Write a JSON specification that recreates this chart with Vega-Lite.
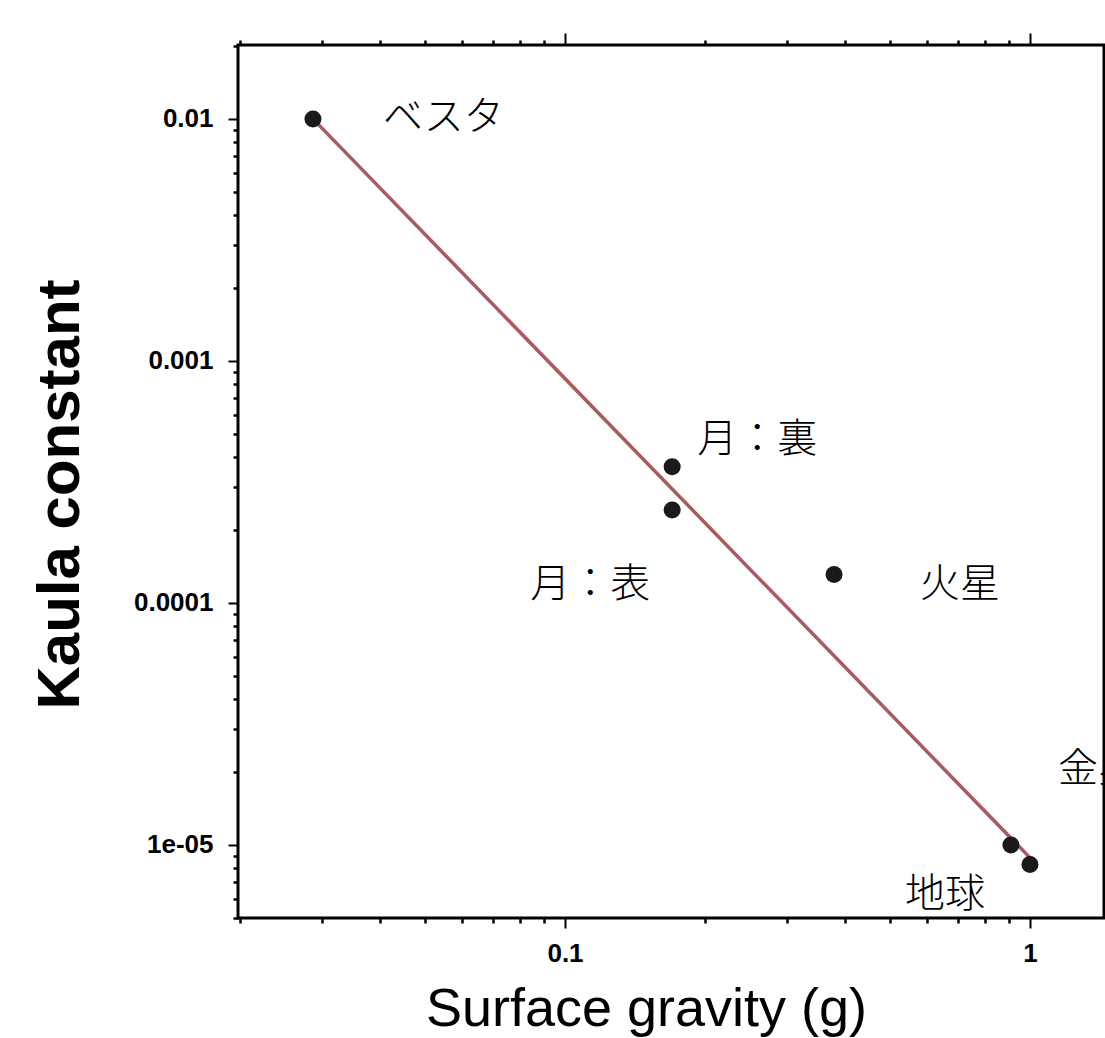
{
  "$schema": "https://vega.github.io/schema/vega-lite/v6.json",
  "width": 866,
  "height": 873,
  "autosize": {"type": "none"},
  "padding": {"left": 238, "top": 45, "right": 1, "bottom": 120},
  "background": "white",
  "config": {
    "view": {"stroke": "black", "strokeWidth": 3},
    "axis": {
      "domain": false,
      "grid": false,
      "tickColor": "black",
      "labelColor": "black",
      "titleColor": "black",
      "labelFont": "Liberation Sans",
      "titleFont": "Liberation Sans"
    }
  },
  "datasets": {
    "bodies": [
      {"body": "ベスタ", "g": 0.0287, "kaula": 0.01},
      {"body": "月：裏", "g": 0.170, "kaula": 0.000365},
      {"body": "月：表", "g": 0.170, "kaula": 0.000242},
      {"body": "火星", "g": 0.379, "kaula": 0.000131},
      {"body": "金星", "g": 0.91, "kaula": 0.00001},
      {"body": "地球", "g": 1.0, "kaula": 0.0000083}
    ],
    "fit": [
      {"g": 0.0287, "kaula": 0.01},
      {"g": 1.015, "kaula": 0.0000086}
    ]
  },
  "resolve": {"axis": {"x": "independent", "y": "independent"}},
  "layer": [
    {
      "data": {"name": "fit"},
      "mark": {"type": "line", "color": "#aa5b60", "strokeWidth": 3.5},
      "encoding": {
        "x": {
          "field": "g", "type": "quantitative",
          "scale": {"type": "log", "domain": [0.0198, 1.443], "nice": false},
          "axis": {
            "orient": "bottom", "values": [0.1, 1], "tickSize": 10, "tickWidth": 2,
            "labelFontSize": 26, "labelFontWeight": "bold", "labelPadding": 12,
            "labelExpr": "toString(datum.value)",
            "title": "Surface gravity (g)", "titleFontSize": 54, "titleFontWeight": "normal",
            "titleX": 408, "titleY": 107, "titleAlign": "center", "titleBaseline": "alphabetic", "titleAnchor": null
          }
        },
        "y": {
          "field": "kaula", "type": "quantitative",
          "scale": {"type": "log", "domain": [0.00000499, 0.0202], "nice": false},
          "axis": {
            "orient": "left", "values": [0.01, 0.001, 0.0001, 0.00001], "tickSize": 10, "tickWidth": 2,
            "labelFontSize": 26, "labelFontWeight": "bold", "labelPadding": 15,
            "labelExpr": "datum.value < 0.00005 ? '1e-05' : toString(datum.value)",
            "title": "Kaula constant", "titleFontSize": 60, "titleFontWeight": "bold",
            "titleX": -160, "titleY": 449, "titleAngle": -90, "titleAlign": "center", "titleBaseline": "alphabetic"
          }
        }
      }
    },
    {
      "data": {"name": "bodies"},
      "mark": {"type": "point", "shape": "circle", "filled": true, "size": 290, "color": "#1a1a1a", "opacity": 1},
      "encoding": {
        "x": {
          "field": "g", "type": "quantitative",
          "axis": {
            "orient": "bottom",
            "values": [0.02, 0.03, 0.04, 0.05, 0.06, 0.07, 0.08, 0.09, 0.2, 0.3, 0.4, 0.5, 0.6, 0.7, 0.8, 0.9],
            "labels": false, "tickSize": 5, "tickWidth": 2.5, "title": null
          }
        },
        "y": {
          "field": "kaula", "type": "quantitative",
          "axis": {
            "orient": "left",
            "values": [0.000005, 0.000006, 0.000007, 0.000008, 0.000009, 0.00002, 0.00003, 0.00004, 0.00005, 0.00006, 0.00007, 0.00008, 0.00009, 0.0002, 0.0003, 0.0004, 0.0005, 0.0006, 0.0007, 0.0008, 0.0009, 0.002, 0.003, 0.004, 0.005, 0.006, 0.007, 0.008, 0.009, 0.02],
            "labels": false, "tickSize": 5, "tickWidth": 2.5, "title": null
          }
        }
      }
    },
    {
      "data": {"name": "bodies"},
      "transform": [{"filter": "datum.body == 'ベスタ'"}],
      "mark": {"type": "text", "align": "left", "baseline": "middle", "dx": 70, "dy": -1, "font": "Noto Sans CJK JP", "fontWeight": 300, "fontSize": 40, "color": "black"},
      "encoding": {
        "x": {
          "field": "g", "type": "quantitative",
          "axis": {"orient": "top", "values": [0.1, 1], "labels": false, "tickSize": 12, "tickWidth": 2, "title": null}
        },
        "y": {"field": "kaula", "type": "quantitative", "axis": null},
        "text": {"field": "body"}
      }
    },
    {
      "data": {"name": "bodies"},
      "transform": [{"filter": "datum.body == '月：裏'"}],
      "mark": {"type": "text", "align": "left", "baseline": "middle", "dx": 25, "dy": -27, "font": "Noto Sans CJK JP", "fontWeight": 300, "fontSize": 40, "color": "black"},
      "encoding": {
        "x": {
          "field": "g", "type": "quantitative",
          "axis": {
            "orient": "top",
            "values": [0.02, 0.03, 0.04, 0.05, 0.06, 0.07, 0.08, 0.09, 0.2, 0.3, 0.4, 0.5, 0.6, 0.7, 0.8, 0.9],
            "labels": false, "tickSize": 5, "tickWidth": 2.5, "title": null
          }
        },
        "y": {"field": "kaula", "type": "quantitative", "axis": null},
        "text": {"field": "body"}
      }
    },
    {
      "data": {"name": "bodies"},
      "transform": [{"filter": "datum.body == '月：表'"}],
      "mark": {"type": "text", "align": "right", "baseline": "middle", "dx": -22, "dy": 75, "font": "Noto Sans CJK JP", "fontWeight": 300, "fontSize": 40, "color": "black"},
      "encoding": {
        "x": {"field": "g", "type": "quantitative", "axis": null},
        "y": {"field": "kaula", "type": "quantitative", "axis": null},
        "text": {"field": "body"}
      }
    },
    {
      "data": {"name": "bodies"},
      "transform": [{"filter": "datum.body == '火星'"}],
      "mark": {"type": "text", "align": "left", "baseline": "middle", "dx": 86, "dy": 10, "font": "Noto Sans CJK JP", "fontWeight": 300, "fontSize": 40, "color": "black"},
      "encoding": {
        "x": {"field": "g", "type": "quantitative", "axis": null},
        "y": {"field": "kaula", "type": "quantitative", "axis": null},
        "text": {"field": "body"}
      }
    },
    {
      "data": {"name": "bodies"},
      "transform": [{"filter": "datum.body == '金星'"}],
      "mark": {"type": "text", "align": "left", "baseline": "middle", "dx": 47, "dy": -75, "font": "Noto Sans CJK JP", "fontWeight": 300, "fontSize": 40, "color": "black"},
      "encoding": {
        "x": {"field": "g", "type": "quantitative", "axis": null},
        "y": {"field": "kaula", "type": "quantitative", "axis": null},
        "text": {"field": "body"}
      }
    },
    {
      "data": {"name": "bodies"},
      "transform": [{"filter": "datum.body == '地球'"}],
      "mark": {"type": "text", "align": "right", "baseline": "middle", "dx": -45, "dy": 30, "font": "Noto Sans CJK JP", "fontWeight": 300, "fontSize": 40, "color": "black"},
      "encoding": {
        "x": {"field": "g", "type": "quantitative", "axis": null},
        "y": {"field": "kaula", "type": "quantitative", "axis": null},
        "text": {"field": "body"}
      }
    }
  ]
}
